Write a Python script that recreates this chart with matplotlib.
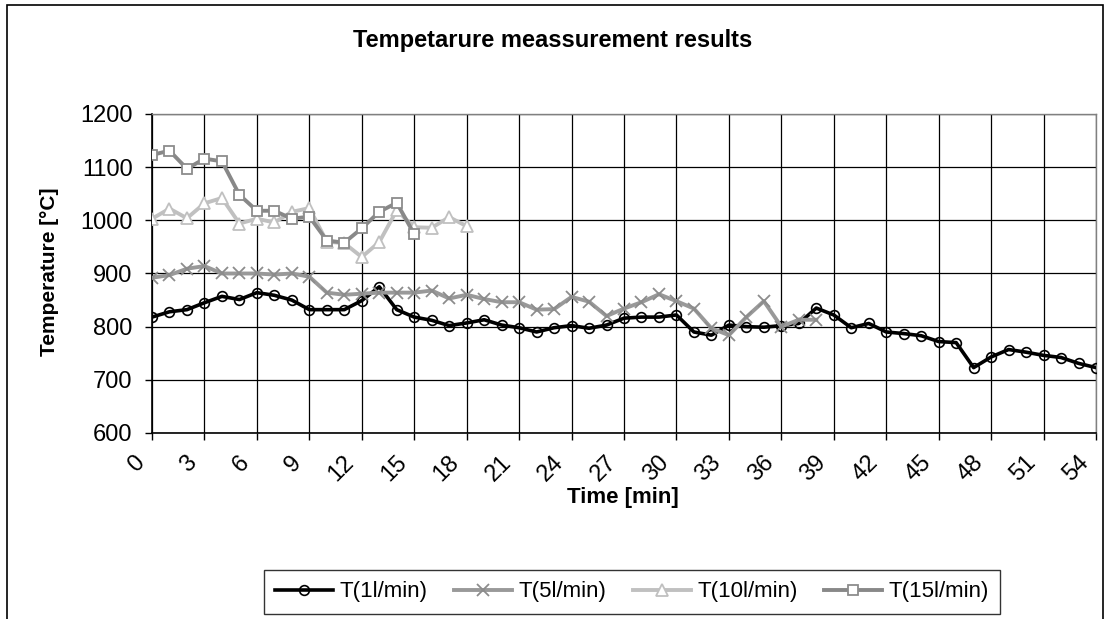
#!/usr/bin/env python3

import matplotlib
matplotlib.use("Agg")
import matplotlib.pyplot as plt
from matplotlib.patches import Rectangle
from matplotlib.transforms import ScaledTranslation

plt.rcParams["font.family"] = ["Liberation Sans", "DejaVu Sans"]

# data (time in minutes, temperature in °C)
t1_time = list(range(0, 55))
t1_temp = [818, 828, 832, 845, 857, 851, 864, 859, 850, 832,
           832, 832, 849, 875, 832, 818, 812, 802, 807, 813,
           803, 798, 790, 798, 802, 797, 803, 816, 818, 818,
           822, 790, 784, 803, 800, 799, 802, 806, 835, 822,
           798, 806, 790, 787, 783, 772, 770, 723, 743, 757,
           752, 746, 742, 731, 723]

t5_time = list(range(0, 39))
t5_temp = [892, 897, 909, 914, 900, 900, 900, 898, 900, 894,
           864, 860, 862, 864, 864, 864, 868, 853, 860, 852,
           846, 846, 832, 833, 856, 847, 820, 834, 846, 861,
           848, 834, 797, 784, 818, 848, 800, 813, 813]

t10_time = list(range(0, 19))
t10_temp = [1003, 1022, 1004, 1032, 1042, 994, 1003, 996, 1016, 1023,
            960, 957, 931, 959, 1019, 987, 986, 1006, 989]

t15_time = list(range(0, 16))
t15_temp = [1123, 1131, 1097, 1116, 1111, 1048, 1018, 1018, 1003, 1007,
            962, 958, 985, 1016, 1033, 974]

series_labels = ["T(1l/min)", "T(5l/min)", "T(10l/min)", "T(15l/min)"]
x_ticks = list(range(0, 55, 3))
y_ticks = list(range(600, 1201, 100))

fig = plt.figure(figsize=(11.06, 6.19), dpi=100)
ax = fig.add_axes([152 / 1106, 1 - 433 / 619, (1096 - 152) / 1106, (433 - 114) / 619])

# outer chart border
fig.patches.append(Rectangle((7 / 1106, -0.1), (1103 - 7) / 1106, 1.1 - 5 / 619,
                             transform=fig.transFigure, fill=False,
                             edgecolor="black", linewidth=1.2))

ax.plot(t1_time, t1_temp, color="black", linewidth=2.6, marker="o",
        markersize=7, markerfacecolor="none", markeredgecolor="black",
        markeredgewidth=1.2, label=series_labels[0], zorder=3)
ax.plot(t5_time, t5_temp, color="#999999", linewidth=2.8, marker="x",
        markersize=8, markeredgecolor="#8c8c8c", markeredgewidth=1.3,
        label=series_labels[1], zorder=4)
ax.plot(t10_time, t10_temp, color="#c0c0c0", linewidth=2.8, marker="^",
        markersize=8, markerfacecolor="white", markeredgecolor="#c0c0c0",
        markeredgewidth=1.3, label=series_labels[2], zorder=5)
ax.plot(t15_time, t15_temp, color="#888888", linewidth=2.8, marker="s",
        markersize=7.5, markerfacecolor="white", markeredgecolor="#8c8c8c",
        markeredgewidth=1.3, label=series_labels[3], zorder=6)

ax.set_xlim(0, 54)
ax.set_ylim(600, 1200)
ax.set_xticks(x_ticks)
ax.set_yticks(y_ticks)
ax.grid(True, color="black", linewidth=0.9)
ax.set_axisbelow(True)

ax.tick_params(axis="both", direction="out", length=5, width=1, labelsize=17)
ax.tick_params(axis="y", pad=9)
ax.tick_params(axis="x", pad=14)
ax.set_xticklabels([str(v) for v in x_ticks], rotation=45, ha="right",
                   va="center", rotation_mode="anchor")
shift = ScaledTranslation(-0.11, 0, fig.dpi_scale_trans)
for lab in ax.get_xticklabels():
    lab.set_transform(lab.get_transform() + shift)

for side in ["left", "bottom"]:
    ax.spines[side].set_color("black")
    ax.spines[side].set_linewidth(1.2)
for side in ["top", "right"]:
    ax.spines[side].set_color("#808080")
    ax.spines[side].set_linewidth(1.0)

fig.text(553 / 1106, 1 - 40 / 619, "Tempetarure meassurement results",
         ha="center", va="center", fontsize=17, fontweight="bold")
fig.text(50 / 1106, 1 - 272 / 619, "Temperature [°C]", rotation=90,
         ha="center", va="center", fontsize=15, fontweight="bold")
fig.text(623 / 1106, 1 - 497 / 619, "Time [min]",
         ha="center", va="center", fontsize=16, fontweight="bold")

leg = fig.legend(loc="center", bbox_to_anchor=(632 / 1106, 1 - 592 / 619),
                 ncol=4, fontsize=16, frameon=True, fancybox=False,
                 edgecolor="black", handlelength=2.6, columnspacing=1.2,
                 handletextpad=0.3, borderpad=0.5)
leg.get_frame().set_linewidth(1.0)

fig.savefig("out.png", dpi=100)
